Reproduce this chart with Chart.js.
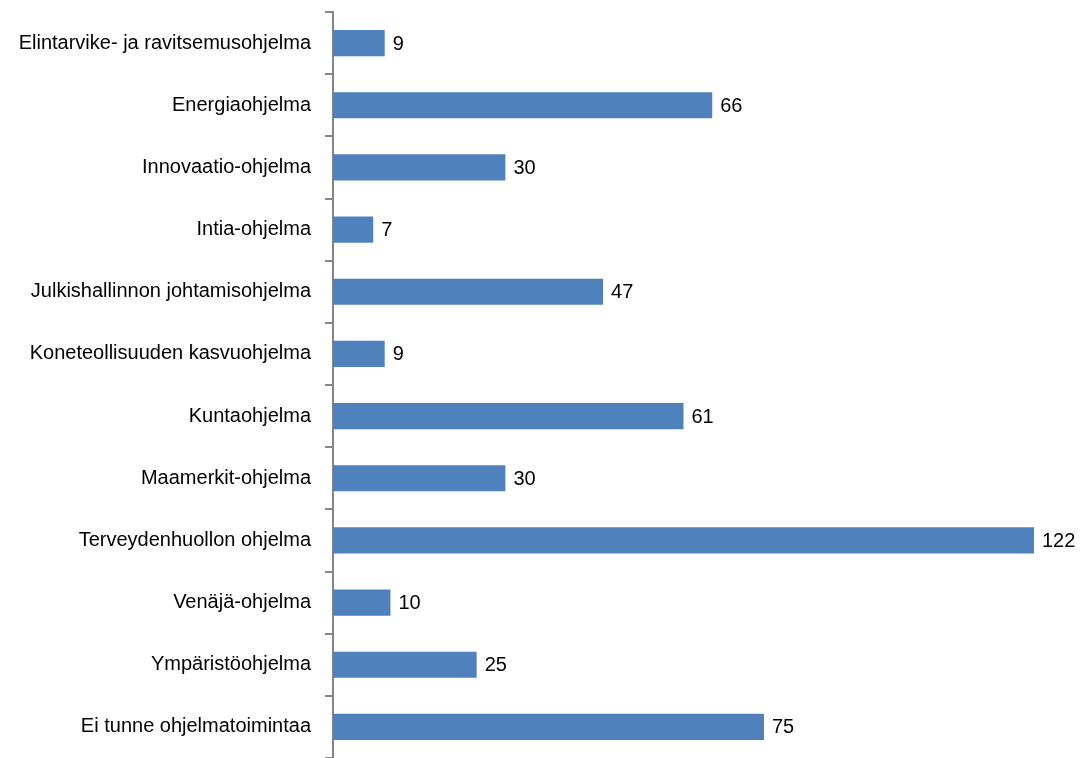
<!DOCTYPE html>
<html>
<head>
<meta charset="utf-8">
<script src="https://cdn.jsdelivr.net/npm/chart.js@4/dist/chart.umd.min.js"></script>
<style>
  html, body { margin: 0; padding: 0; background: #fff; }
  #wrap { width: 1081px; height: 758px; position: relative; }
</style>
</head>
<body>
<div id="wrap"><canvas id="chart"></canvas></div>
<script>
const ohjelmat = [
  'Elintarvike- ja ravitsemusohjelma',
  'Energiaohjelma',
  'Innovaatio-ohjelma',
  'Intia-ohjelma',
  'Julkishallinnon johtamisohjelma',
  'Koneteollisuuden kasvuohjelma',
  'Kuntaohjelma',
  'Maamerkit-ohjelma',
  'Terveydenhuollon ohjelma',
  'Venäjä-ohjelma',
  'Ympäristöohjelma',
  'Ei tunne ohjelmatoimintaa'
];
const vastaukset = [9, 66, 30, 7, 47, 9, 61, 30, 122, 10, 25, 75];

const fontti = '"Liberation Sans", Arial, sans-serif';

// arvot palkkien perään
const arvoLabelit = {
  id: 'arvoLabelit',
  afterDatasetsDraw(chart) {
    const ctx = chart.ctx;
    const meta = chart.getDatasetMeta(0);
    ctx.save();
    ctx.font = '20px ' + fontti;
    ctx.fillStyle = '#000';
    ctx.textAlign = 'left';
    ctx.textBaseline = 'middle';
    meta.data.forEach((bar, i) => {
      ctx.fillText(String(vastaukset[i]), bar.x + 8, bar.y + 1);
    });
    ctx.restore();
  }
};

const ctx = document.getElementById('chart').getContext('2d');
const myChart = new Chart(ctx, {
  type: 'bar',
  data: {
    labels: ohjelmat,
    datasets: [{
      data: vastaukset,
      backgroundColor: '#4F81BD',
      borderWidth: 0,
      barPercentage: 0.42,
      categoryPercentage: 1.0
    }]
  },
  options: {
    indexAxis: 'y',
    responsive: true,
    maintainAspectRatio: false,
    animation: false,
    layout: { padding: { top: 12, right: 47, bottom: 0, left: 0 } },
    plugins: {
      legend: { display: false },
      tooltip: { enabled: false }
    },
    scales: {
      x: {
        display: false,
        min: 0,
        max: 122
      },
      y: {
        offset: true,
        afterFit(scale) {
          scale.width = 333;
          scale.paddingTop = 0;
          scale.paddingBottom = 0;
        },
        border: { display: true, color: '#868686', width: 2 },
        grid: {
          offset: true,
          drawOnChartArea: false,
          drawTicks: true,
          tickLength: 8,
          color: '#868686',
          lineWidth: 2
        },
        ticks: {
          color: '#000',
          padding: 14,
          font: { family: fontti, size: 20 }
        }
      }
    }
  },
  plugins: [arvoLabelit]
});
</script>
</body>
</html>
